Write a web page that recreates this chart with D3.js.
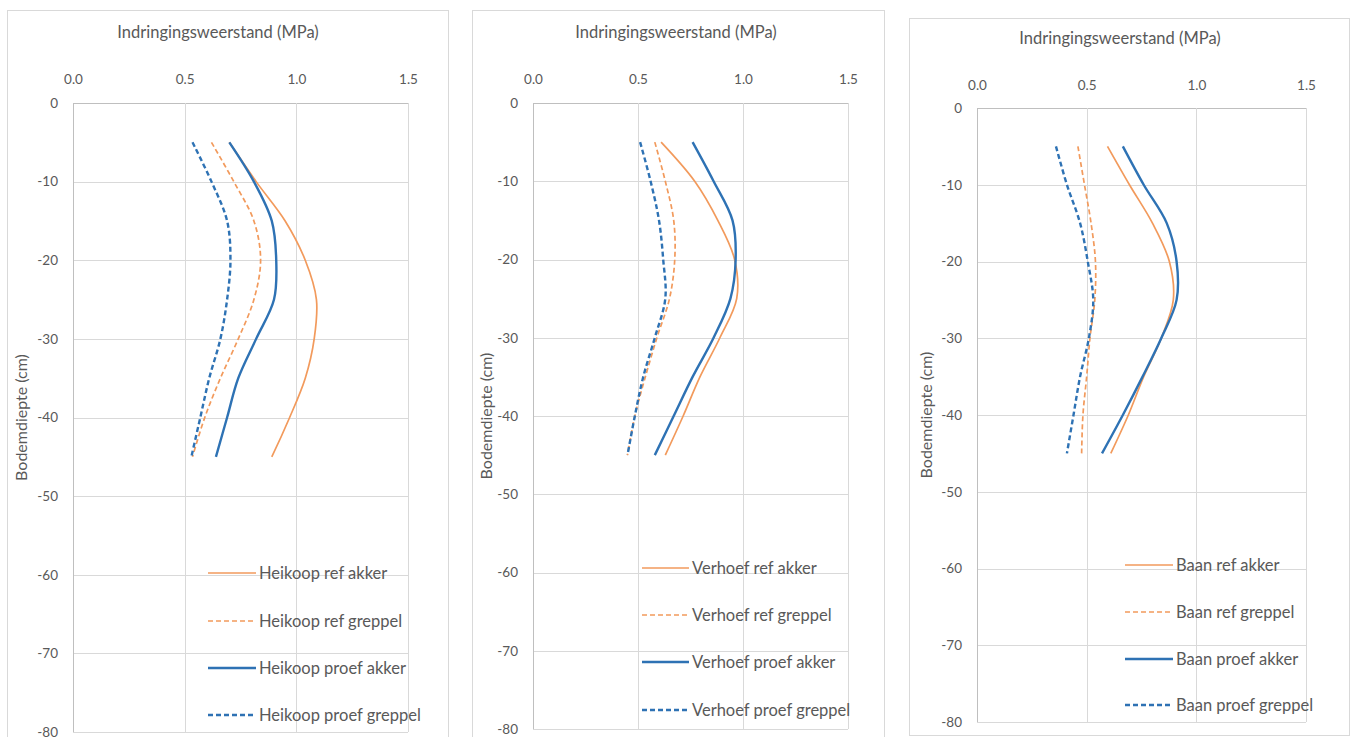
<!DOCTYPE html>
<html>
<head>
<meta charset="utf-8">
<script src="https://cdn.jsdelivr.net/npm/d3@7"></script>
<style>
  html, body { margin: 0; padding: 0; background: #fff; }
  svg { display: block; }
  text { font-family: Lato, "Open Sans", sans-serif; fill: #595959; }
</style>
</head>
<body>
<svg id="chart" width="1351" height="737"></svg>
<script>
// Penetration resistance (MPa) by soil depth (cm), three farms, four series each
const depths = [-5, -10, -15, -20, -25, -30, -35, -40, -45];
const xTicks = [0.0, 0.5, 1.0, 1.5];
const yTicks = [0, -10, -20, -30, -40, -50, -60, -70, -80];
const xTitle = "Indringingsweerstand (MPa)";
const yTitle = "Bodemdiepte (cm)";
const farms = ["Heikoop", "Verhoef", "Baan"];
const seriesNames = ["ref akker", "ref greppel", "proef akker", "proef greppel"];

const heikoopRefAkker     = [0.70, 0.82, 0.95, 1.04, 1.09, 1.08, 1.04, 0.97, 0.89];
const heikoopRefGreppel   = [0.62, 0.72, 0.81, 0.84, 0.81, 0.74, 0.66, 0.59, 0.535];
const heikoopProefAkker   = [0.70, 0.81, 0.89, 0.91, 0.90, 0.82, 0.74, 0.69, 0.64];
const heikoopProefGreppel = [0.535, 0.62, 0.69, 0.705, 0.69, 0.66, 0.61, 0.57, 0.53];

const verhoefRefAkker     = [0.61, 0.77, 0.88, 0.96, 0.97, 0.89, 0.795, 0.715, 0.63];
const verhoefRefGreppel   = [0.58, 0.63, 0.67, 0.675, 0.65, 0.59, 0.535, 0.485, 0.45];
const verhoefProefAkker   = [0.76, 0.86, 0.95, 0.965, 0.94, 0.86, 0.76, 0.67, 0.58];
const verhoefProefGreppel = [0.51, 0.56, 0.60, 0.62, 0.63, 0.58, 0.525, 0.485, 0.45];

const baanRefAkker        = [0.595, 0.695, 0.80, 0.877, 0.895, 0.84, 0.76, 0.69, 0.61];
const baanRefGreppel      = [0.46, 0.49, 0.52, 0.54, 0.537, 0.515, 0.50, 0.483, 0.477];
const baanProefAkker      = [0.665, 0.76, 0.865, 0.91, 0.91, 0.84, 0.755, 0.665, 0.57];
const baanProefGreppel    = [0.36, 0.41, 0.47, 0.505, 0.53, 0.51, 0.47, 0.44, 0.41];

const farmSeries = [
  [heikoopRefAkker, heikoopRefGreppel, heikoopProefAkker, heikoopProefGreppel],
  [verhoefRefAkker, verhoefRefGreppel, verhoefProefAkker, verhoefProefGreppel],
  [baanRefAkker, baanRefGreppel, baanProefAkker, baanProefGreppel]
];

// Series styling: orange = reference, blue = trial; dashed = ditch (greppel)
const styles = [
  { color: "#F29A5C", width: 1.7, dash: null },
  { color: "#F29A5C", width: 1.7, dash: "5,3" },
  { color: "#2E72B4", width: 2.4, dash: null },
  { color: "#2E72B4", width: 2.4, dash: "5,3" }
];

// Panel geometry
const panels = [
  { box: [7, 10, 448, 760], plot: [73, 103, 408, 732], titleX: 218, titleY: 38, tickY: 87, yTitleX: 27, legX: 208, legW: 48, legY: [573, 621, 668, 715] },
  { box: [472, 10, 884, 760], plot: [533, 103, 848, 729], titleX: 676, titleY: 38, tickY: 87, yTitleX: 492, legX: 642, legW: 47, legY: [568, 615, 662, 710] },
  { box: [909, 18, 1349, 735], plot: [977, 108, 1306, 722], titleX: 1120, titleY: 44, tickY: 93, yTitleX: 932, legX: 1125, legW: 48, legY: [565, 612, 659, 705] }
];

const svg = d3.select("#chart");

panels.forEach((p, i) => {
  const [x0, y0, x1, y1] = p.plot;
  const x = d3.scaleLinear().domain([0, 1.5]).range([x0, x1]);
  const y = d3.scaleLinear().domain([0, -80]).range([y0, y1]);
  const g = svg.append("g");

  // outer frame
  g.append("rect")
    .attr("x", p.box[0] + 0.5).attr("y", p.box[1] + 0.5)
    .attr("width", p.box[2] - p.box[0]).attr("height", p.box[3] - p.box[1])
    .attr("fill", "#fff").attr("stroke", "#d9d9d9").attr("stroke-width", 1);

  // gridlines
  g.append("g").selectAll("line").data(yTicks).join("line")
    .attr("x1", x0).attr("x2", x1)
    .attr("y1", d => Math.round(y(d)) + 0.5).attr("y2", d => Math.round(y(d)) + 0.5)
    .attr("stroke", d => d === 0 ? "#bfbfbf" : "#d9d9d9").attr("stroke-width", 1);
  g.append("g").selectAll("line").data(xTicks).join("line")
    .attr("y1", y0).attr("y2", y1)
    .attr("x1", d => Math.round(x(d)) + 0.5).attr("x2", d => Math.round(x(d)) + 0.5)
    .attr("stroke", d => d === 0 ? "#bfbfbf" : "#d9d9d9").attr("stroke-width", 1);

  // top x axis labels
  const xAxis = d3.axisTop(x).tickValues(xTicks).tickFormat(d3.format(".1f")).tickSize(0);
  const xa = g.append("g").attr("transform", `translate(0,${p.tickY})`).call(xAxis);
  xa.select(".domain").remove();
  xa.selectAll("text").attr("font-size", 13.5).attr("fill", "#7f7f7f")
    .attr("font-family", "Lato, sans-serif").attr("dy", "0");

  // left y axis labels
  const yAxis = d3.axisLeft(y).tickValues(yTicks).tickFormat(d => String(d)).tickSize(0).tickPadding(15);
  const ya = g.append("g").attr("transform", `translate(${x0},0)`).call(yAxis);
  ya.select(".domain").remove();
  ya.selectAll("text").attr("font-size", 13.5).attr("fill", "#7f7f7f")
    .attr("font-family", "Lato, sans-serif");

  // axis titles
  g.append("text").attr("x", p.titleX).attr("y", p.titleY)
    .attr("text-anchor", "middle").attr("font-size", 16.5).text(xTitle);
  g.append("text")
    .attr("transform", `translate(${p.yTitleX},${(y0 + y1) / 2}) rotate(-90)`)
    .attr("text-anchor", "middle").attr("font-size", 16).text(yTitle);

  // series lines
  const line = d3.line()
    .x(d => x(d[0]))
    .y(d => y(d[1]))
    .curve(d3.curveCatmullRom.alpha(0.5));

  const order = [0, 1, 3, 2];
  order.forEach(k => {
    const vals = farmSeries[i][k];
    const pts = vals.map((v, j) => [v, depths[j]]);
    g.append("path").datum(pts)
      .attr("d", line)
      .attr("fill", "none")
      .attr("stroke", styles[k].color)
      .attr("stroke-width", styles[k].width)
      .attr("stroke-dasharray", styles[k].dash);
  });

  // legend
  seriesNames.forEach((name, k) => {
    const ly = p.legY[k];
    g.append("line")
      .attr("x1", p.legX).attr("x2", p.legX + p.legW)
      .attr("y1", ly).attr("y2", ly)
      .attr("stroke", styles[k].color)
      .attr("stroke-width", styles[k].width)
      .attr("stroke-dasharray", styles[k].dash);
    g.append("text")
      .attr("x", p.legX + p.legW + 3).attr("y", ly + 6)
      .attr("font-size", 16.5).text(`${farms[i]} ${name}`);
  });
});
</script>
</body>
</html>
